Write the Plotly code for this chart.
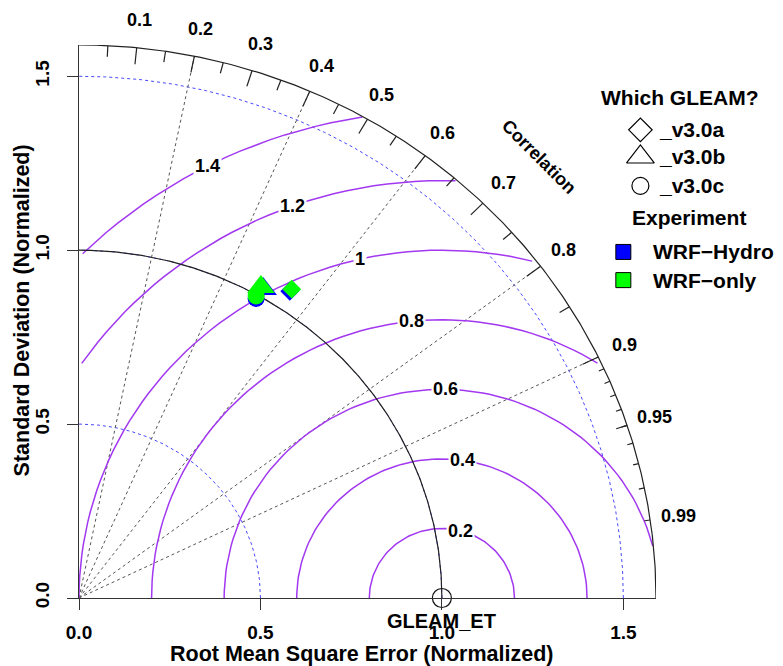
import numpy as np
import plotly.graph_objects as go

# ---------------- values ----------------
gleam_versions = ["_v3.0a", "_v3.0b", "_v3.0c"]
version_symbols = ["diamond", "triangle-up", "circle"]
experiments = ["WRF\u2212Hydro", "WRF\u2212only"]
experiment_colors = ["#0000FF", "#00FF00"]

# normalized standard deviation and correlation against GLEAM_ET
hydro_sd = [1.056, 1.023, 0.990]
hydro_corr = [0.550, 0.496, 0.493]
only_sd = [1.064, 1.025, 0.996]
only_corr = [0.551, 0.489, 0.490]

ref_sd = 1.0
ref_name = "GLEAM_ET"

rms_levels = [0.2, 0.4, 0.6, 0.8, 1.0, 1.2, 1.4]
rms_labels = ["0.2", "0.4", "0.6", "0.8", "1", "1.2", "1.4"]
rms_label_deg = [75, 82, 89, 96, 103, 110, 117.5]

corr_big = [0.1, 0.2, 0.3, 0.4, 0.5, 0.6, 0.7, 0.8, 0.9]
corr_med = [0.05, 0.15, 0.25, 0.35, 0.45, 0.55, 0.65, 0.75, 0.85, 0.95]
corr_small = [0.91, 0.92, 0.93, 0.94, 0.95, 0.96, 0.97, 0.98, 0.99]
corr_label_vals = [0.1, 0.2, 0.3, 0.4, 0.5, 0.6, 0.7, 0.8, 0.9, 0.95, 0.99]
corr_label_text = ["0.1", "0.2", "0.3", "0.4", "0.5", "0.6", "0.7", "0.8", "0.9", "0.95", "0.99"]
corr_grid = [0.2, 0.4, 0.6, 0.8, 0.9]
sd_arcs = [0.5, 1.0, 1.5]

axis_tickvals = [0.0, 0.5, 1.0, 1.5]
axis_ticktext = ["0.0", "0.5", "1.0", "1.5"]

max_ray = 1.59

FONT = "Liberation Sans, Arial, Helvetica, sans-serif"
PURPLE = "#A238F0"

fig = go.Figure()


def add_line(xs, ys, color, width=1.0, dash="solid"):
    fig.add_trace(go.Scatter(x=xs, y=ys, mode="lines", hoverinfo="skip",
                             line=dict(color=color, width=width, dash=dash),
                             showlegend=False))


# standard deviation arcs (dotted blue)
quarter = np.linspace(0, np.pi / 2, 300)
for r in sd_arcs:
    add_line(r * np.cos(quarter), r * np.sin(quarter), "#4848FF", 1.0, "dot")

# correlation rays
for c in corr_grid:
    add_line([0, max_ray * c], [0, max_ray * np.sqrt(1 - c * c)], "#555555", 1.0, "dot")

# centred RMS difference contours around the reference point
angles = np.arange(0, 101) * np.pi / 100
for g in rms_levels:
    xc = np.cos(angles) * g + ref_sd
    yc = np.sin(angles) * g
    neg = np.where(xc < 0)[0]
    end = neg.min() - 1 if len(neg) else len(xc) - 1
    outside = np.where(xc * xc + yc * yc > max_ray * max_ray)[0]
    start = outside.max() + 1 if len(outside) else 0
    add_line(xc[start:end + 1], yc[start:end + 1], PURPLE, 1.5)

# reference standard deviation arc
add_line(ref_sd * np.cos(quarter), ref_sd * np.sin(quarter), "#222222", 1.2)

# outer correlation arc
add_line(max_ray * np.cos(quarter), max_ray * np.sin(quarter), "#222222", 1.2)

# correlation ticks on the outer arc
tx, ty = [], []
for vals, frac in ((corr_big, 0.97), (corr_med, 0.98), (corr_small, 0.99)):
    for c in vals:
        s = np.sqrt(1 - c * c)
        tx += [max_ray * c, frac * max_ray * c, None]
        ty += [max_ray * s, frac * max_ray * s, None]
add_line(tx, ty, "#222222", 1.2)

# model points: WRF-Hydro first, WRF-only on top
for sd_vals, corr_vals, col, name in ((hydro_sd, hydro_corr, experiment_colors[0], experiments[0]),
                                      (only_sd, only_corr, experiment_colors[1], experiments[1])):
    for sd, cr, sym, ver in zip(sd_vals, corr_vals, version_symbols, gleam_versions):
        size = {"diamond": 14.5, "triangle-up": 24, "circle": 17}[sym]
        fig.add_trace(go.Scatter(
            x=[sd * cr], y=[sd * np.sqrt(1 - cr * cr)], mode="markers",
            marker=dict(symbol=sym, size=size, color=col, line=dict(width=0)),
            name=f"{name} {ver}", showlegend=False, cliponaxis=False))

# reference point
fig.add_trace(go.Scatter(x=[ref_sd], y=[0], mode="markers", cliponaxis=False,
                         marker=dict(symbol="circle-open", size=19, color="#111111",
                                     line=dict(width=1.2)),
                         showlegend=False, hoverinfo="skip"))

annotations = []


def bold(t):
    return f"<b>{t}</b>"


def note(x, y, text, size, xanchor="center", **kw):
    # positions given in data units; placed on paper so nothing outside the range is hidden
    annotations.append(dict(x=x / max_ray, y=y / max_ray, xref="paper", yref="paper",
                            xanchor=xanchor, yanchor="middle",
                            text=bold(text), showarrow=False,
                            font=dict(size=size, family=FONT, color="black"), **kw))


# RMS contour labels
for g, lab, deg in zip(rms_levels, rms_labels, rms_label_deg):
    a = np.radians(deg)
    note(ref_sd + g * np.cos(a), g * np.sin(a), lab, 18, bgcolor="white", borderpad=1)

# correlation labels
for c, lab in zip(corr_label_vals, corr_label_text):
    note(1.05 * max_ray * c, 1.05 * max_ray * np.sqrt(1 - c * c), lab, 18)

note(1.128 * max_ray * np.cos(np.pi / 4), 1.128 * max_ray * np.sin(np.pi / 4),
     "Correlation", 18, textangle=45)

# reference label
note(ref_sd, 0, ref_name, 20, yshift=-23)

# axis titles
annotations.append(dict(x=0.49, xref="paper", y=0.0, yref="paper", yshift=-56,
                        xanchor="center", yanchor="middle",
                        text=bold("Root Mean Square Error (Normalized)"), showarrow=False,
                        font=dict(size=21.5, family=FONT, color="black")))
annotations.append(dict(x=0, xref="paper", xshift=-57, y=0.52, yref="paper",
                        xanchor="center", yanchor="middle",
                        text=bold("Standard Deviation (Normalized)"), textangle=-90, showarrow=False,
                        font=dict(size=21.5, family=FONT, color="black")))

# legend block to the right of the diagram
lx_sym = 1.547
lx_sq = 1.50
leg_title_y = [1.44, 1.095]
ver_rows = [1.346, 1.268, 1.185]
exp_rows = [0.995, 0.914]
note(1.655, leg_title_y[0], "Which GLEAM?", 21)
note(1.68, leg_title_y[1], "Experiment", 21)
leg_sizes = {"diamond": 18, "triangle-up": 24, "circle": 17}
for ver, sym, yy in zip(gleam_versions, version_symbols, ver_rows):
    fig.add_trace(go.Scatter(x=[lx_sym], y=[yy], mode="markers", cliponaxis=False, showlegend=False,
                             hoverinfo="skip",
                             marker=dict(symbol=sym + "-open", size=leg_sizes[sym], color="black",
                                         line=dict(width=1.2))))
    note(lx_sym + 0.045, yy, ver, 21, xanchor="left")
for name, col, yy in zip(experiments, experiment_colors, exp_rows):
    fig.add_trace(go.Scatter(x=[lx_sq], y=[yy], mode="markers", cliponaxis=False, showlegend=False,
                             hoverinfo="skip",
                             marker=dict(symbol="square", size=15, color=col,
                                         line=dict(width=1, color="black"))))
    note(lx_sq + 0.075, yy, name, 21, xanchor="left")

axis_common = dict(range=[0, max_ray], showline=True, linecolor="#333333", linewidth=1.2,
                   ticks="outside", ticklen=11, tickwidth=1.2, tickcolor="#333333",
                   tickvals=axis_tickvals, ticktext=[bold(t) for t in axis_ticktext],
                   tickfont=dict(size=19, family=FONT, color="black"),
                   showgrid=False, zeroline=False, fixedrange=True)

fig.update_layout(
    width=783, height=666,
    margin=dict(l=79, r=127, t=45, b=68),
    paper_bgcolor="white", plot_bgcolor="white",
    xaxis=dict(**axis_common, ticklabelstandoff=6),
    yaxis=dict(**axis_common, tickangle=-90, ticklabelstandoff=10),
    annotations=annotations,
    showlegend=False,
)

fig.write_html("out.html")
